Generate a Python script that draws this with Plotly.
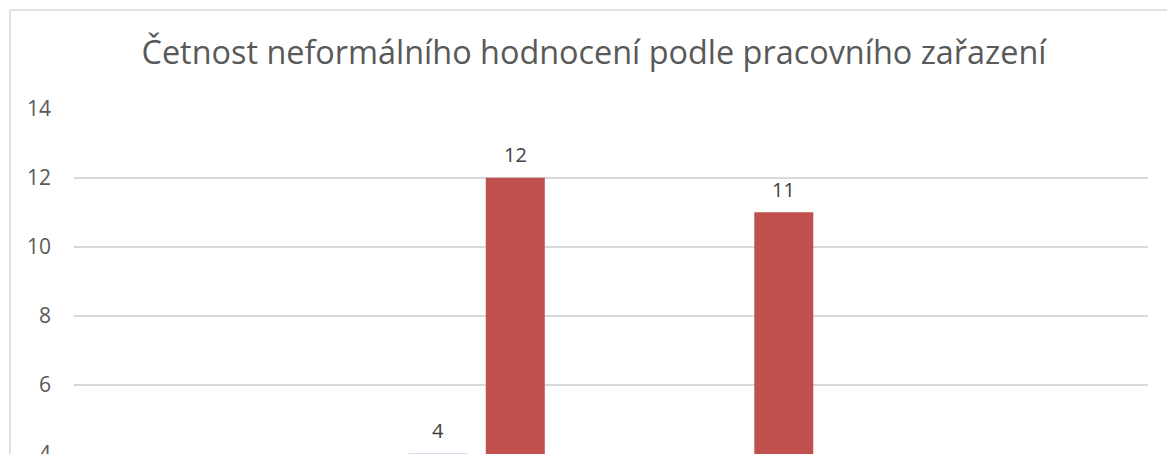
import plotly.graph_objects as go

categories = ["Dělník", "Technik", "Administrativní pracovník", "Vedoucí pracovník"]
series_names = ["Ano", "Ne"]
series1 = [2, 4, 3, 1]
series2 = [1, 12, 11, 2]
colors = ["#4F81BD", "#C0504D"]
title = "Četnost neformálního hodnocení podle pracovního zařazení"
y_ticks = [4, 6, 8, 10, 12, 14]

fig = go.Figure()
annotations = []
offsets = [-38.5, 38.5]
for name, vals, col, off in zip(series_names, [series1, series2], colors, offsets):
    fig.add_trace(go.Bar(
        x=categories, y=vals, name=name, marker_color=col,
        marker_line_width=0,
    ))
    for c, v in zip(categories, vals):
        annotations.append(dict(
            x=c, y=v, xref="x", yref="y", text=str(v), showarrow=False,
            xshift=off, yshift=23, yanchor="middle", xanchor="center",
            font=dict(family="Open Sans", size=20, color="#404040"),
        ))

fig.update_layout(
    width=1167, height=454,
    margin=dict(l=74, r=19, t=108, b=0),
    paper_bgcolor="white", plot_bgcolor="white",
    barmode="group", bargap=0.426, bargroupgap=0.234,
    showlegend=False,
    annotations=annotations,
    title=dict(text=title, x=0.509, xanchor="center", y=0.883, yanchor="middle",
               font=dict(family="Open Sans", size=32.4, color="#595959")),
    xaxis=dict(showticklabels=False, showline=False, ticks="", automargin=False),
    yaxis=dict(range=[3.995, 14.025], tickvals=y_ticks, showgrid=True,
               gridcolor="#D9D9D9", gridwidth=1.8, zeroline=False, showline=False,
               tickfont=dict(family="Open Sans", size=21, color="#595959"),
               ticks="", ticklabelstandoff=22, ticklabeloverflow="allow",
               automargin=False),
    shapes=[
        dict(type="line", xref="paper", yref="paper",
             x0=(10 - 74) / 1074, x1=(1167 - 74) / 1074,
             y0=(454 - 10) / 346, y1=(454 - 10) / 346,
             line=dict(color="#D9D9D9", width=1.5)),
        dict(type="line", xref="paper", yref="paper",
             x0=(10 - 74) / 1074, x1=(10 - 74) / 1074,
             y0=(454 - 10) / 346, y1=-0.1,
             line=dict(color="#D9D9D9", width=1.5)),
    ],
)

fig.write_html("out.html", config={"displayModeBar": False},
               post_script="document.body.style.margin='0';")
